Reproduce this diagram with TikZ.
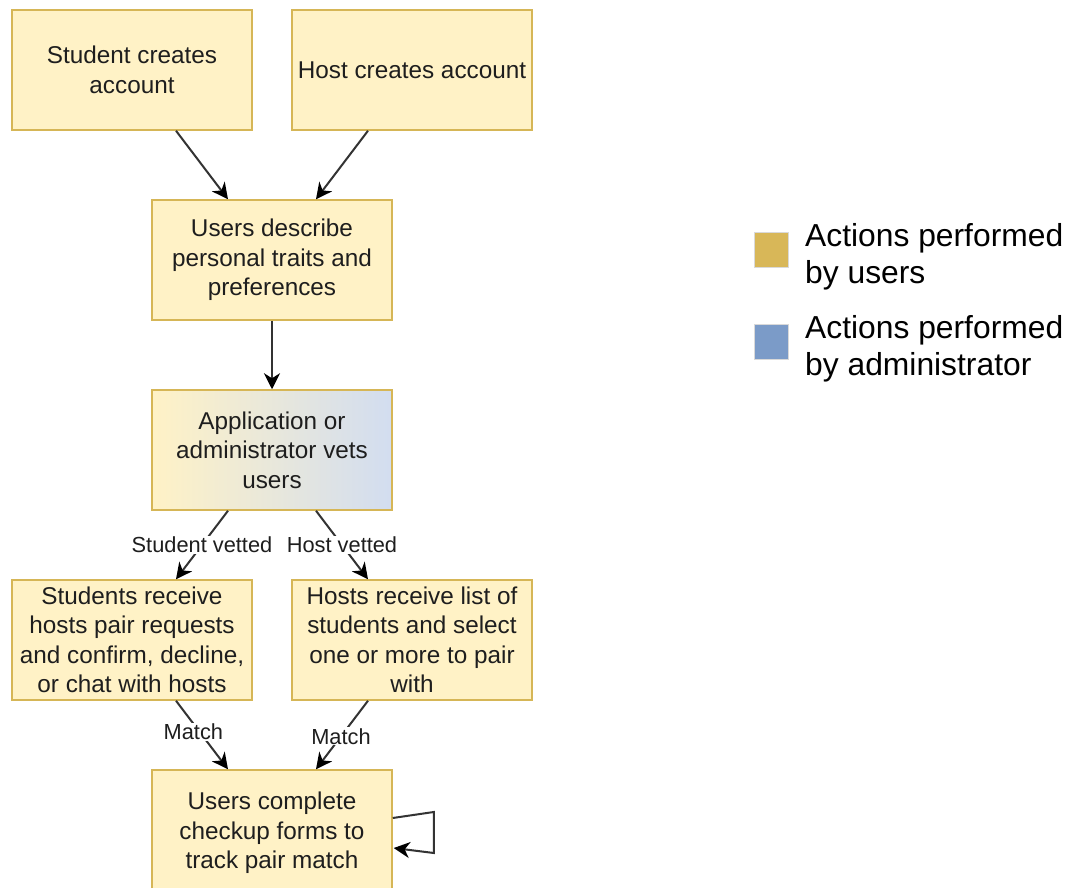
\documentclass[tikz,border=0pt]{standalone}
\usepackage{fontspec}
\setmainfont{Liberation Sans}
\usetikzlibrary{arrows.meta,calc}
\definecolor{boxfill}{HTML}{FFF2C6}
\definecolor{boxline}{HTML}{D6B656}
\definecolor{adminfill}{HTML}{D2DDF0}
\definecolor{leggold}{HTML}{D8B758}
\definecolor{legblue}{HTML}{7B9BC8}
\definecolor{txt}{HTML}{1E1E1E}
\tikzset{
  stepbox/.style={draw=boxline, fill=boxfill, line width=1.5pt, minimum width=240pt, minimum height=120pt, align=center, inner sep=2pt, text=txt, font=\fontsize{24.3}{29.5}\selectfont},
  flow/.style={draw=black!80, line width=2pt, -{Stealth[length=16pt,width=16pt,inset=5pt,fill=black,color=black]}},
  elabel/.style={fill=white, inner sep=1pt, text=txt, font=\fontsize{21.8}{25}\selectfont},
  legsq/.style={draw=black!15, line width=0.8pt, minimum width=34pt, minimum height=35pt, inner sep=0pt},
  legtext/.style={anchor=west, align=left, inner sep=0pt, font=\fontsize{31.8}{37}\selectfont}
}
\begin{document}
\begin{tikzpicture}[x=1pt,y=-1pt]
\clip (0,0) rectangle (1074,888);
\fill[white] (0,0) rectangle (1074,888);
\node[stepbox] (A) at (132,70) {Student creates\\account};
\node[stepbox] (B) at (412,70) {Host creates account};
\node[stepbox] (C) at (272,260) {Users describe\\personal traits and\\preferences};
\node[stepbox, left color=boxfill, right color=adminfill] (D) at (272,450) {Application or\\administrator vets\\users};
\node[stepbox] (E) at (132,640) {Students receive\\hosts pair requests\\and confirm, decline,\\or chat with hosts};
\node[stepbox] (F) at (412,640) {Hosts receive list of\\students and select\\one or more to pair\\with};
\node[stepbox, minimum height=126pt] (G) at (272,833) {Users complete\\checkup forms to\\track pair match};

\draw[flow] ([xshift=44pt]A.south) -- ([xshift=-44pt]C.north);
\draw[flow] ([xshift=-44pt]B.south) -- ([xshift=44pt]C.north);
\draw[flow] (C.south) -- (D.north);
\draw[flow] ([xshift=-44pt]D.south) -- node[elabel] (lsv) {Student vetted} ([xshift=44pt]E.north);
\draw[flow] ([xshift=44pt]D.south) -- node[elabel] (lhv) {Host vetted} ([xshift=-44pt]F.north);
\draw[flow] ([xshift=44pt]E.south) -- node[elabel, pos=0.45, xshift=-6pt] (lm1) {Match} ([xshift=-44pt]G.north);
\draw[flow] ([xshift=-44pt]F.south) -- node[elabel, pos=0.52] (lm2) {Match} ([xshift=44pt]G.north);

\coordinate (l0) at ([yshift=15pt]G.east);
\coordinate (l1) at ([xshift=41pt,yshift=21pt]G.east);
\coordinate (l2) at ([xshift=41pt,yshift=-20pt]G.east);
\coordinate (l3) at ([xshift=1pt,yshift=-15pt]G.east);
\draw[flow] (l0) -- (l1) -- (l2) -- (l3);

\node[legsq, fill=leggold] (k1) at (771,250) {};
\node[legtext] (t1) at (805,257) {Actions performed\\by users};
\node[legsq, fill=legblue] (k2) at (771,342) {};
\node[legtext] (t2) at (805,349) {Actions performed\\by administrator};
\end{tikzpicture}
\end{document}
